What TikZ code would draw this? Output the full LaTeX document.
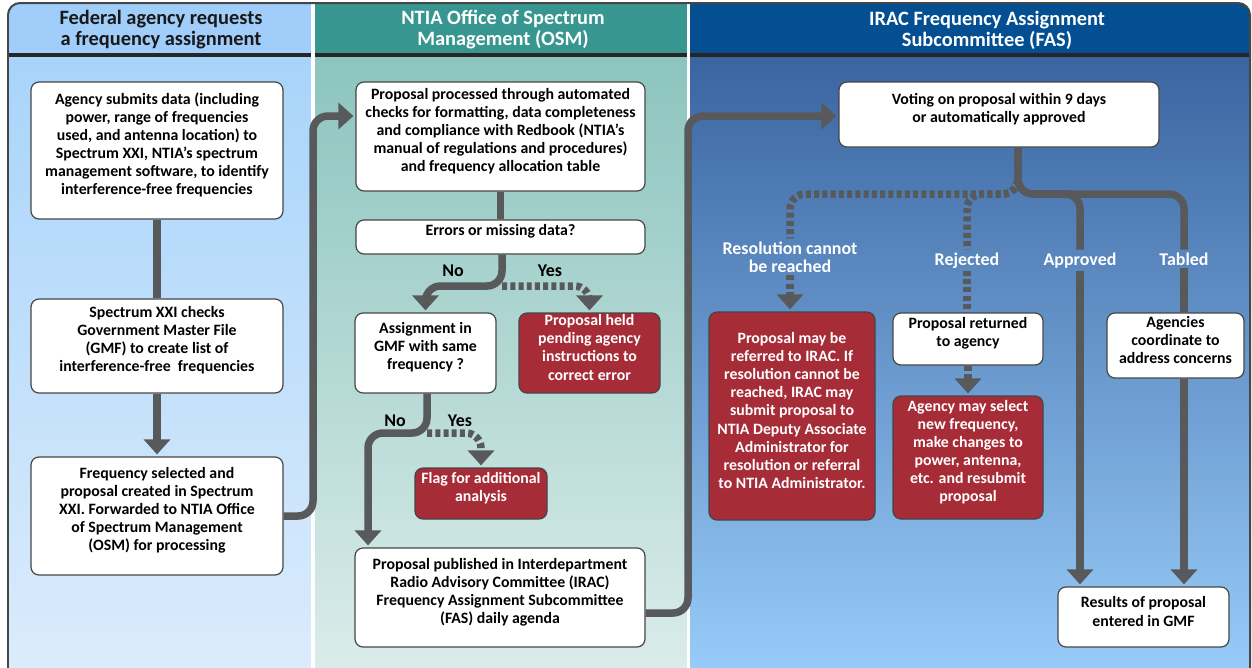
\documentclass[tikz,border=0pt]{standalone}
\usepackage{fontspec}
\setmainfont{Carlito}
\usetikzlibrary{arrows.meta,fit,calc}
\definecolor{lhead}{RGB}{160,205,250}
\definecolor{ltop}{RGB}{168,212,250}
\definecolor{lbot}{RGB}{220,236,252}
\definecolor{mhead}{RGB}{56,150,144}
\definecolor{mtop}{RGB}{140,196,190}
\definecolor{mbot}{RGB}{220,237,235}
\definecolor{rhead}{RGB}{4,78,146}
\definecolor{rtop}{RGB}{58,100,160}
\definecolor{rbot}{RGB}{153,205,250}
\definecolor{redf}{RGB}{166,44,55}
\definecolor{cgray}{RGB}{88,89,91}
\definecolor{boxline}{RGB}{70,70,70}
\definecolor{framec}{RGB}{70,70,70}
\begin{document}
\begin{tikzpicture}[x=0.02cm,y=-0.02cm,
 box/.style={draw=boxline, line width=0.024cm, rounded corners=0.16cm, fill=white, inner sep=0pt, align=center, font=\bfseries\fontsize{9}{10.3}\selectfont, text=black},
 redbox/.style={box, fill=redf, text=white},
 conn/.style={draw=cgray, line width=0.15cm, rounded corners=0.3cm},
 dot/.style={conn, dash pattern=on 0.1cm off 0.065cm},
 arr/.style={-{Triangle[width=0.52cm,length=0.3cm]}, shorten >=0.04cm},
 lab/.style={font=\bfseries\fontsize{10.2}{10.5}\selectfont, text=white, align=center, inner sep=0.05cm},
 yn/.style={font=\bfseries\fontsize{10.2}{10.5}\selectfont, text=black, inner sep=0pt},
 hd/.style={font=\bfseries\fontsize{11.6}{11.9}\selectfont, align=center, inner sep=0pt}]

\useasboundingbox (0,0) rectangle (1252,667);
\fill[white] (0,0) rectangle (1252,667);
\begin{scope}
\clip[rounded corners=0.24cm] (8,3) rectangle (1250,680);
\shade[top color=ltop, bottom color=lbot] (8,55) rectangle (311,680);
\shade[top color=mtop, bottom color=mbot] (315,55) rectangle (687,680);
\shade[top color=rtop, bottom color=rbot] (690,55) rectangle (1250,680);
\fill[lhead] (8,3) rectangle (311,55);
\fill[mhead] (315,3) rectangle (687,55);
\fill[rhead] (690,3) rectangle (1250,55);
\fill[black!85] (8,53) rectangle (1250,57);
\fill[white] (311,3) rectangle (315,680);
\fill[white] (687,3) rectangle (690,680);
\end{scope}
\draw[framec, line width=0.04cm, rounded corners=0.24cm] (8,3) rectangle (1250,680);

% headers
\node[hd, text=black!90] (h1) at (161,30) {Federal agency requests\\a frequency assignment};
\node[hd, text=white] (h2) at (503,30) {NTIA Office of Spectrum\\Management (OSM)};
\node[hd, text=white] (h3) at (987,30) {IRAC Frequency Assignment\\Subcommittee (FAS)};

% labels
\node[lab] (lRes) at (790,257) {Resolution cannot\\be reached};
\node[lab, anchor=base] (lRej) at (967,265) {Rejected};
\node[lab, anchor=base] (lApp) at (1080,265) {Approved};
\node[lab, anchor=base] (lTab) at (1184,265) {Tabled};

% boxes
\node[box, fit={(31,82) (283,219)}] (A1) {Agency submits data (including\\power, range of frequencies\\used, and antenna location) to\\Spectrum XXI, NTIA’s spectrum\\management software, to identify\\interference-free frequencies};
\node[box, fit={(31,299) (283,393)}] (A2) {Spectrum XXI checks\\Government Master File\\(GMF) to create list of\\interference-free\ \ frequencies};
\node[box, fit={(31,457) (283,575)}] (A3) {Frequency selected and\\proposal created in Spectrum\\XXI. Forwarded to NTIA Office\\of Spectrum Management\\(OSM) for processing};
\node[box, fit={(356,82) (645,191)}] (B1) {Proposal processed through automated\\checks for formatting, data completeness\\and compliance with Redbook (NTIA’s\\manual of regulations and procedures)\\and frequency allocation table};
\node[box, fit={(356,220) (645,254)}] (B2) {Errors or missing data?};
\node[box, fit={(355,313) (496,393)}] (B3) {Assignment in\\GMF with same\\frequency ?};
\node[redbox, fit={(519,313) (660,393)}] (B4) {Proposal held\\pending agency\\instructions to\\correct error};
\node[redbox, fit={(415,468) (547,519)}] (B5) {Flag for additional\\analysis};
\node[box, fit={(355,548) (645,647)}] (B6) {Proposal published in Interdepartment\\Radio Advisory Committee (IRAC)\\Frequency Assignment Subcommittee\\(FAS) daily agenda};
\node[box, fit={(839,82) (1159,147)}] (C1) {Voting on proposal within 9 days\\or automatically approved};
\node[redbox, fit={(709,312) (875,520)}] (C2) {Proposal may be\\referred to IRAC. If\\resolution cannot be\\reached, IRAC may\\submit proposal to\\NTIA Deputy Associate\\Administrator for\\resolution or referral\\to NTIA Administrator.};
\node[box, fit={(893,313) (1043,365)}] (C3) {Proposal returned\\to agency};
\node[redbox, fit={(893,396) (1043,519)}] (C4) {Agency may select\\new frequency,\\make changes to\\power, antenna,\\etc. and resubmit\\proposal};
\node[box, fit={(1107,313) (1244,378)}] (C5) {Agencies\\coordinate to\\address concerns};
\node[box, fit={(1058,587) (1229,647)}] (C6) {Results of proposal\\entered in GMF};

% yes / no
\node[yn] (n1) at (453,271) {No};
\node[yn] (y1) at (550,271) {Yes};
\node[yn] (n2) at (395,421) {No};
\node[yn] (y2) at (460,421) {Yes};

% connectors
\coordinate (k1) at (313,116);
\coordinate (k4) at (688,116);
\coordinate (k5) at (688,613);
\coordinate (j1) at (502,286);
\coordinate (j3) at (427,433);
\coordinate (k3) at (368,433);
\coordinate (j5) at (1018,194);
\coordinate (j6) at (1018,172);

\draw[conn] (A1.south) -- (A2.north);
\draw[conn,arr] (A2.south) -- (A3.north);
\draw[conn,arr] (A3.east) -| (k1) -- (k1 -| B1.west);
\draw[conn] (B1.south) -- (B2.north);
\draw[dot,arr] (j1) -| (B4.north);
\draw[conn,arr] (B2.south -| j1) -- (j1) -| (B3.north);
\draw[dot,arr] (j3) -| (B5.north);
\draw[conn,arr] (B3.south -| j3) -- (j3) -- (k3) -- (k3 |- B6.north);
\draw[conn,arr] (B6.east |- k5) -- (k5) -- (k4) -- (k4 -| C1.west);

\draw[dot] (j6) -- (j5) -| (lRes.north);
\draw[dot] (j6) -- (j5) -| (lRej.north);
\draw[dot,arr] (lRes.south) -- (lRes.south |- C2.north);
\draw[dot] (lRej.south) -- (lRej.south |- C3.north);
\draw[dot,arr] (C3.south) -- (C4.north);
\draw[conn] (C1.south -| j5) -- (j5) -| (lApp.north);
\draw[conn] (C1.south -| j5) -- (j5) -| (lTab.north);
\draw[conn,arr] (lApp.south) -- (lApp.south |- C6.north);
\draw[conn] (lTab.south) -- (lTab.south |- C5.north);
\draw[conn,arr] (C5.south -| lTab) -- (lTab |- C6.north);
\end{tikzpicture}
\end{document}
